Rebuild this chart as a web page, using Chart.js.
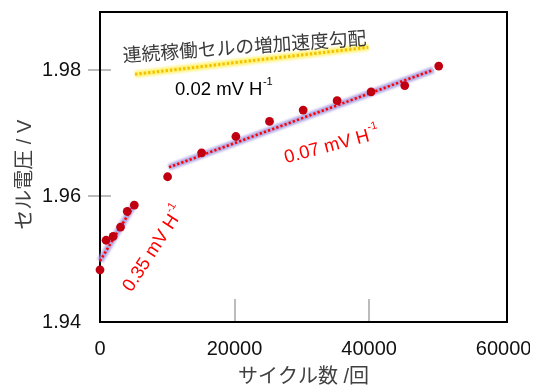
<!DOCTYPE html>
<html lang="ja">
<head>
<meta charset="utf-8">
<script src="https://cdn.jsdelivr.net/npm/chart.js@4.4.1/dist/chart.umd.min.js"></script>
<style>
  html, body { margin: 0; padding: 0; background: #ffffff; }
  #wrap { width: 530px; height: 392px; }
</style>
</head>
<body>
<div id="wrap"><canvas id="c" width="530" height="392"></canvas></div>
<script>
// Measured cell voltage against cycle count
const cycles  = [0, 900, 1950, 3050, 4050, 5100, 10050, 15100, 20200, 25200, 30200, 35250, 40300, 45300, 50350];
const voltage = [1.9483, 1.9530, 1.9536, 1.9551, 1.9576, 1.9586, 1.9631, 1.9669, 1.9695, 1.9719, 1.9737, 1.9752, 1.9766, 1.9776, 1.9807];

// Fitted trend segments (start / end)
const earlyFitX = [0, 5200];
const earlyFitV = [1.9497, 1.9589];
const lateFitX  = [10250, 49550];
const lateFitV  = [1.9646, 1.9801];
const refFitX   = [5200, 39900];
const refFitV   = [1.9794, 1.9837];

// Axis ticks
const xTicks = [0, 20000, 40000, 60000];
const yTicks = [1.94, 1.96, 1.98];

const NUM_FONT = "'Liberation Sans', Arial, sans-serif";
const JP_FONT  = "'Liberation Sans', 'Noto Sans CJK JP', sans-serif";

const pts = (xs, vs) => xs.map((x, i) => ({ x, y: vs[i] }));

// Slope annotations, placed in data coordinates
const notes = [
  { text: '連続稼働セルの増加速度勾配', x: 21480, y: 1.98385, angle: 4.1, align: 'center', baseline: 'middle', color: '#3a3a3a', size: 18.8 },
  { text: '0.02 mV H', sup: '-1', x: 11150, y: 1.97613, angle: 0,  color: '#000000', size: 18.5 },
  { text: '0.07 mV H', sup: '-1', x: 27650, y: 1.96523, angle: 15, color: '#ff0000', size: 18.5 },
  { text: '0.35 mV H', sup: '-1', x: 4700,  y: 1.94466, angle: 57, color: '#ff0000', size: 18.5 }
];

// Soft halo under the trend lines
const glowPlugin = {
  id: 'glow',
  beforeDatasetDraw(chart, args) {
    if (chart.data.datasets[args.index].glow) {
      chart.ctx.save();
      chart.ctx.filter = 'blur(1.3px)';
    }
  },
  afterDatasetDraw(chart, args) {
    if (chart.data.datasets[args.index].glow) chart.ctx.restore();
  }
};

// Plot frame plus the short tick marks crossing the axes
const framePlugin = {
  id: 'frame',
  beforeDatasetsDraw(chart) {
    const { ctx, chartArea: a, scales: { x, y } } = chart;
    ctx.save();
    ctx.strokeStyle = '#a6a6a6';
    ctx.lineWidth = 1.5;
    yTicks.forEach(v => {
      const py = Math.round(y.getPixelForValue(v));
      if (py >= a.bottom - 1) return;
      ctx.beginPath();
      ctx.moveTo(a.left - 12, py);
      ctx.lineTo(a.left + 11, py);
      ctx.stroke();
    });
    xTicks.forEach(v => {
      const px = Math.round(x.getPixelForValue(v));
      if (px <= a.left + 1 || px >= a.right - 5) return;
      ctx.beginPath();
      ctx.moveTo(px, a.bottom - 23);
      ctx.lineTo(px, a.bottom);
      ctx.stroke();
    });
    ctx.strokeStyle = '#000000';
    ctx.lineWidth = 2;
    ctx.strokeRect(a.left, a.top, a.right - a.left, a.bottom - a.top);
    ctx.restore();
  }
};

const notesPlugin = {
  id: 'notes',
  afterDatasetsDraw(chart) {
    const { ctx, scales: { x, y } } = chart;
    notes.forEach(n => {
      ctx.save();
      ctx.translate(x.getPixelForValue(n.x), y.getPixelForValue(n.y));
      ctx.rotate(-n.angle * Math.PI / 180);
      ctx.fillStyle = n.color;
      ctx.font = n.size + 'px ' + (n.sup ? NUM_FONT : "'Noto Sans CJK JP', sans-serif");
      ctx.textAlign = n.align || 'left';
      ctx.textBaseline = n.baseline || 'alphabetic';
      ctx.fillText(n.text, 0, 0);
      if (n.sup) {
        const w = ctx.measureText(n.text).width;
        ctx.font = (n.size * 0.6) + 'px ' + NUM_FONT;
        ctx.textAlign = 'left';
        ctx.fillText(n.sup, w + 0.5, -n.size * 0.55);
      }
      ctx.restore();
    });
  }
};

new Chart(document.getElementById('c'), {
  type: 'scatter',
  data: {
    datasets: [
      { data: pts(cycles, voltage), pointRadius: 4.4, pointHoverRadius: 4.4, pointBackgroundColor: '#c00010', pointBorderWidth: 0, showLine: false, order: 0, clip: false },
      { data: pts(earlyFitX, earlyFitV), type: 'line', borderColor: '#ff0000', borderWidth: 2.6, borderDash: [2.2, 2.2], borderCapStyle: 'butt', pointRadius: 0, fill: false, order: 1, clip: false },
      { data: pts(lateFitX, lateFitV), type: 'line', borderColor: '#ff0000', borderWidth: 2.6, borderDash: [2.2, 2.2], borderCapStyle: 'butt', pointRadius: 0, fill: false, order: 1, clip: false },
      { data: pts(refFitX, refFitV), type: 'line', borderColor: '#f2c200', borderWidth: 3, borderDash: [2.4, 2], borderCapStyle: 'butt', pointRadius: 0, fill: false, order: 1, clip: false },
      { data: pts(earlyFitX, earlyFitV), type: 'line', glow: true, borderColor: 'rgba(165,152,225,0.85)', borderWidth: 6.5, pointRadius: 0, fill: false, order: 2, clip: false },
      { data: pts(lateFitX, lateFitV), type: 'line', glow: true, borderColor: 'rgba(165,152,225,0.85)', borderWidth: 6.5, pointRadius: 0, fill: false, order: 2, clip: false },
      { data: pts(refFitX, refFitV), type: 'line', glow: true, borderColor: 'rgba(255,242,110,0.9)', borderWidth: 7, pointRadius: 0, fill: false, order: 2, clip: false }
    ]
  },
  options: {
    responsive: false,
    animation: false,
    events: [],
    layout: { padding: { top: 12, right: 23, bottom: 0, left: 0 } },
    plugins: { legend: { display: false }, tooltip: { enabled: false } },
    scales: {
      x: {
        type: 'linear',
        min: 0,
        max: 60500,
        afterBuildTicks: s => { s.ticks = xTicks.map(v => ({ value: v })); },
        afterFit: s => { s.height = 70; s.paddingLeft = 0; s.paddingRight = 0; },
        grid: { display: false, drawTicks: false },
        border: { display: false },
        ticks: { padding: 15, color: '#111111', font: { family: NUM_FONT, size: 20 }, maxRotation: 0, autoSkip: false, callback: v => String(v) },
        title: { display: true, text: 'サイクル数 /回', color: '#404040', font: { family: JP_FONT, size: 20 }, padding: { top: 0, bottom: 3 } }
      },
      y: {
        type: 'linear',
        min: 1.94,
        max: 1.9893,
        afterBuildTicks: s => { s.ticks = yTicks.map(v => ({ value: v })); },
        afterFit: s => { s.width = 100; s.paddingTop = 0; s.paddingBottom = 0; },
        grid: { display: false, drawTicks: false },
        border: { display: false },
        ticks: { padding: 19, color: '#111111', font: { family: NUM_FONT, size: 20 }, callback: v => v.toFixed(2) },
        title: { display: true, text: 'セル電圧 / V\u2002 ', color: '#404040', font: { family: JP_FONT, size: 20 }, padding: { top: 13, bottom: 0 } }
      }
    }
  },
  plugins: [glowPlugin, framePlugin, notesPlugin]
});
</script>
</body>
</html>
